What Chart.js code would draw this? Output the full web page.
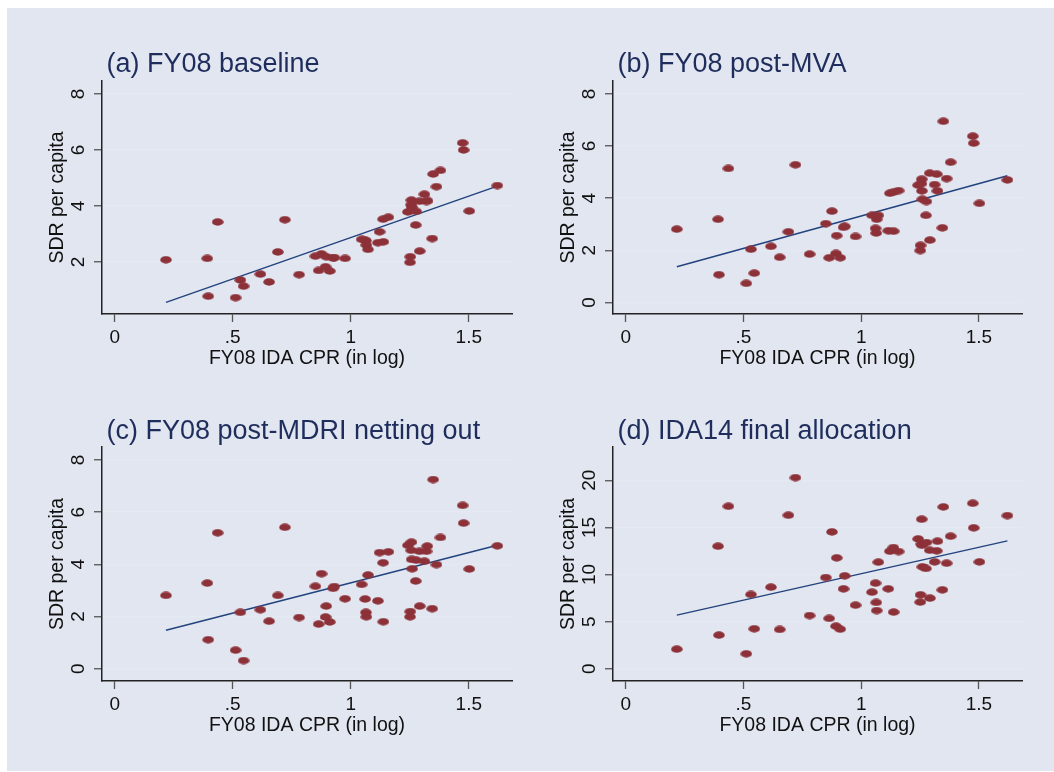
<!DOCTYPE html>
<html lang="en">
<head>
<meta charset="UTF-8">
<title>SDR per capita vs FY08 IDA CPR</title>
<script src="https://cdn.jsdelivr.net/npm/chart.js"></script>
<style>
  body { margin: 0; background: #ffffff; }
  #graph { position: absolute; left: 7px; top: 8px; width: 1047px; height: 763px; background: #e1e6f0; }
  canvas { position: absolute; }
</style>
</head>
<body>
<div id="graph"></div>
<canvas id="panelA" width="520" height="380"></canvas>
<canvas id="panelB" width="520" height="380"></canvas>
<canvas id="panelC" width="520" height="380"></canvas>
<canvas id="panelD" width="520" height="380"></canvas>

<script>
// FY08 IDA CPR (in log), one entry per country, shared by all panels
const cpr = [0.217, 0.392, 0.396, 0.436, 0.512, 0.532, 0.546, 0.617, 0.654, 0.691, 0.721, 0.781,
  0.850, 0.864, 0.876, 0.893, 0.896, 0.911, 0.925, 0.930, 0.976,
  1.046, 1.061, 1.064, 1.066, 1.073, 1.115, 1.122, 1.138, 1.137, 1.159,
  1.242, 1.257, 1.256, 1.258, 1.260, 1.277, 1.275, 1.252, 1.251, 1.292, 1.291, 1.321, 1.324, 1.312,
  1.345, 1.349, 1.363, 1.380, 1.474, 1.478, 1.502, 1.621];

// SDR per capita, one array per panel
const sdrBaseline = [2.08, 2.13, 0.78, 3.43, 0.73, 1.36, 1.14, 1.57, 1.29, 2.36, 3.51, 1.55,
  2.21, 1.70, 2.29, 1.83, 2.19, 1.68, 2.14, 2.16, 2.13,
  2.81, 2.78, 2.76, 2.61, 2.45, 2.69, 3.08, 2.72, 3.53, 3.60,
  3.79, 4.21, 4.05, 3.97, 3.85, 3.81, 3.32, 2.19, 1.99, 2.39, 4.17, 4.16, 4.20, 4.42,
  2.84, 5.14, 4.69, 5.27, 6.25, 6.00, 3.82, 4.73];
const sdrPostMva = [2.81, 3.19, 1.06, 5.14, 0.73, 2.04, 1.12, 2.15, 1.73, 2.71, 5.28, 1.85,
  3.02, 1.71, 3.50, 1.88, 2.56, 1.71, 2.88, 2.92, 2.53,
  3.34, 2.84, 2.66, 3.19, 3.34, 2.75, 4.19, 2.73, 4.23, 4.29,
  4.50, 4.73, 4.56, 4.28, 3.96, 3.87, 3.34, 2.19, 1.99, 2.39, 4.96, 4.92, 4.28, 4.52,
  2.86, 6.95, 4.75, 5.38, 6.38, 6.11, 3.80, 4.70];
const sdrPostMdri = [2.81, 3.28, 1.11, 5.21, 0.71, 2.16, 0.31, 2.26, 1.82, 2.81, 5.42, 1.96,
  3.16, 1.71, 3.64, 1.98, 2.40, 1.79, 3.08, 3.15, 2.68,
  3.23, 2.67, 2.16, 1.99, 3.59, 2.60, 4.45, 1.80, 4.06, 4.48,
  4.73, 4.85, 4.54, 4.19, 3.83, 4.16, 3.36, 2.19, 1.99, 2.40, 4.50, 4.50, 4.70, 4.12,
  2.30, 7.25, 3.99, 5.03, 6.26, 5.58, 3.82, 4.71];
const sdrIda14 = [2.08, 13.0, 3.57, 17.24, 1.59, 7.88, 4.24, 8.66, 4.17, 16.29, 20.28, 5.65,
  9.68, 5.34, 14.52, 4.52, 11.77, 4.20, 8.48, 9.86, 6.75,
  8.13, 9.08, 7.03, 6.18, 11.31, 8.48, 12.47, 6.01, 12.86, 12.44,
  13.78, 15.87, 13.25, 13.1, 10.81, 13.39, 10.64, 7.84, 7.07, 7.49, 12.58, 12.51, 13.53, 11.34,
  8.37, 17.17, 11.2, 14.06, 17.56, 14.95, 11.34, 16.25];

// fitted lines, read at the ends of the x range
const fitX = [0.217, 1.621];
const fitBaseline = [0.56, 4.71];
const fitPostMva = [1.37, 4.86];
const fitPostMdri = [1.47, 4.73];
const fitIda14 = [5.69, 13.57];

// ticks
const xTicks = [0, 0.5, 1, 1.5];
const xTickLabels = ['0', '.5', '1', '1.5'];
const yTicksBaseline = [2, 4, 6, 8];
const yTicksSdr = [0, 2, 4, 6, 8];
const yTicksIda14 = [0, 5, 10, 15, 20];

const FONT = '"Liberation Sans", Arial, Helvetica, sans-serif';
const TICK_SIZE = 19;
Chart.defaults.font.family = FONT;
Chart.defaults.color = '#111';

// Stata-like marker: a slightly flattened maroon dot
function makeMarker() {
    const c = document.createElement('canvas');
    c.width = 12;
    c.height = 8;
    const g = c.getContext('2d');
    g.fillStyle = '#8d3139';
    g.beginPath();
    g.ellipse(6, 4, 5.8, 3.7, 0, 0, Math.PI * 2);
    g.fill();
    return c;
}
const marker = makeMarker();

// panel heading drawn just above the plot region
const panelTitle = {
    id: 'panelTitle',
    afterDraw(chart, args, opts) {
        const { ctx, chartArea } = chart;
        ctx.save();
        ctx.font = '27px ' + FONT;
        ctx.fillStyle = '#1f2d5c';
        ctx.textBaseline = 'alphabetic';
        ctx.fillText(opts.text, chartArea.left + 4.5, chartArea.top - opts.gap);
        ctx.restore();
    }
};

function tickPad(labels) {
    const g = document.createElement('canvas').getContext('2d');
    g.font = TICK_SIZE + 'px ' + FONT;
    const widest = Math.max(...labels.map(l => g.measureText(l).width));
    return 15 - widest / 2;
}

function makePanel(id, box, title, gap, ys, fit, yMin, yMax, yTicks) {
    const canvas = document.getElementById(id);
    canvas.style.left = (box.left - 95) + 'px';
    canvas.style.top = (box.top - 73) + 'px';

    const points = cpr.map((x, i) => ({ x: x, y: ys[i] }));
    const line = fitX.map((x, i) => ({ x: x, y: fit[i] }));
    const yLabels = yTicks.map(String);

    new Chart(canvas.getContext('2d'), {
        type: 'scatter',
        data: {
            datasets: [{
                data: points,
                pointStyle: marker,
                pointRadius: 6
            }, {
                data: line,
                showLine: true,
                pointRadius: 0,
                borderColor: '#23437e',
                borderWidth: 1.5
            }]
        },
        options: {
            responsive: false,
            animation: false,
            events: [],
            layout: {
                padding: { top: 73, left: 0, right: 520 - 95 - box.width, bottom: 380 - 73 - box.height - 60 }
            },
            plugins: {
                legend: { display: false },
                tooltip: { enabled: false },
                panelTitle: { text: title, gap: gap }
            },
            scales: {
                x: {
                    type: 'linear',
                    min: -0.054,
                    max: 1.683,
                    afterBuildTicks: s => { s.ticks = xTicks.map(v => ({ value: v })); },
                    afterFit: s => { s.height = 60; },
                    grid: { drawOnChartArea: false, drawTicks: true, tickLength: 8, tickColor: '#555', tickWidth: 1.3 },
                    border: { display: true, color: '#222', width: 1.5 },
                    ticks: {
                        padding: 4.5,
                        font: { size: TICK_SIZE },
                        color: '#111',
                        maxRotation: 0,
                        callback: (v, i) => xTickLabels[i]
                    },
                    title: {
                        display: true,
                        text: 'FY08 IDA CPR (in log)',
                        font: { size: 19.5 },
                        color: '#111',
                        padding: { top: 0, bottom: 4 }
                    }
                },
                y: {
                    type: 'linear',
                    min: yMin,
                    max: yMax,
                    afterBuildTicks: s => { s.ticks = yTicks.map(v => ({ value: v })); },
                    afterFit: s => { s.width = 95; },
                    grid: { color: '#e4e9f2', lineWidth: 1.5, drawTicks: true, tickLength: 8, tickColor: '#555', tickWidth: 1.3 },
                    border: { display: true, color: '#222', width: 1.5 },
                    ticks: {
                        padding: tickPad(yLabels),
                        font: { size: TICK_SIZE },
                        color: '#111',
                        minRotation: 90,
                        maxRotation: 90,
                        crossAlign: 'center',
                        callback: (v, i) => yLabels[i]
                    },
                    title: {
                        display: true,
                        text: 'SDR per capita',
                        font: { size: 19.5 },
                        color: '#111',
                        padding: { top: 38.6, bottom: 0 }
                    }
                }
            }
        },
        plugins: [panelTitle]
    });
}

makePanel('panelA', { left: 102, top: 81, width: 410, height: 233 }, '(a) FY08 baseline', 9.3,
    sdrBaseline, fitBaseline, 0.146, 8.46, yTicksBaseline);
makePanel('panelB', { left: 613, top: 81, width: 409, height: 233 }, '(b) FY08 post-MVA', 9.3,
    sdrPostMva, fitPostMva, -0.447, 8.497, yTicksSdr);
makePanel('panelC', { left: 102, top: 447, width: 410, height: 234 }, '(c) FY08 post-MDRI netting out', 7.7,
    sdrPostMdri, fitPostMdri, -0.472, 8.498, yTicksSdr);
makePanel('panelD', { left: 613, top: 447, width: 409, height: 234 }, '(d) IDA14 final allocation', 7.7,
    sdrIda14, fitIda14, -1.30, 23.53, yTicksIda14);
</script>
</body>
</html>
